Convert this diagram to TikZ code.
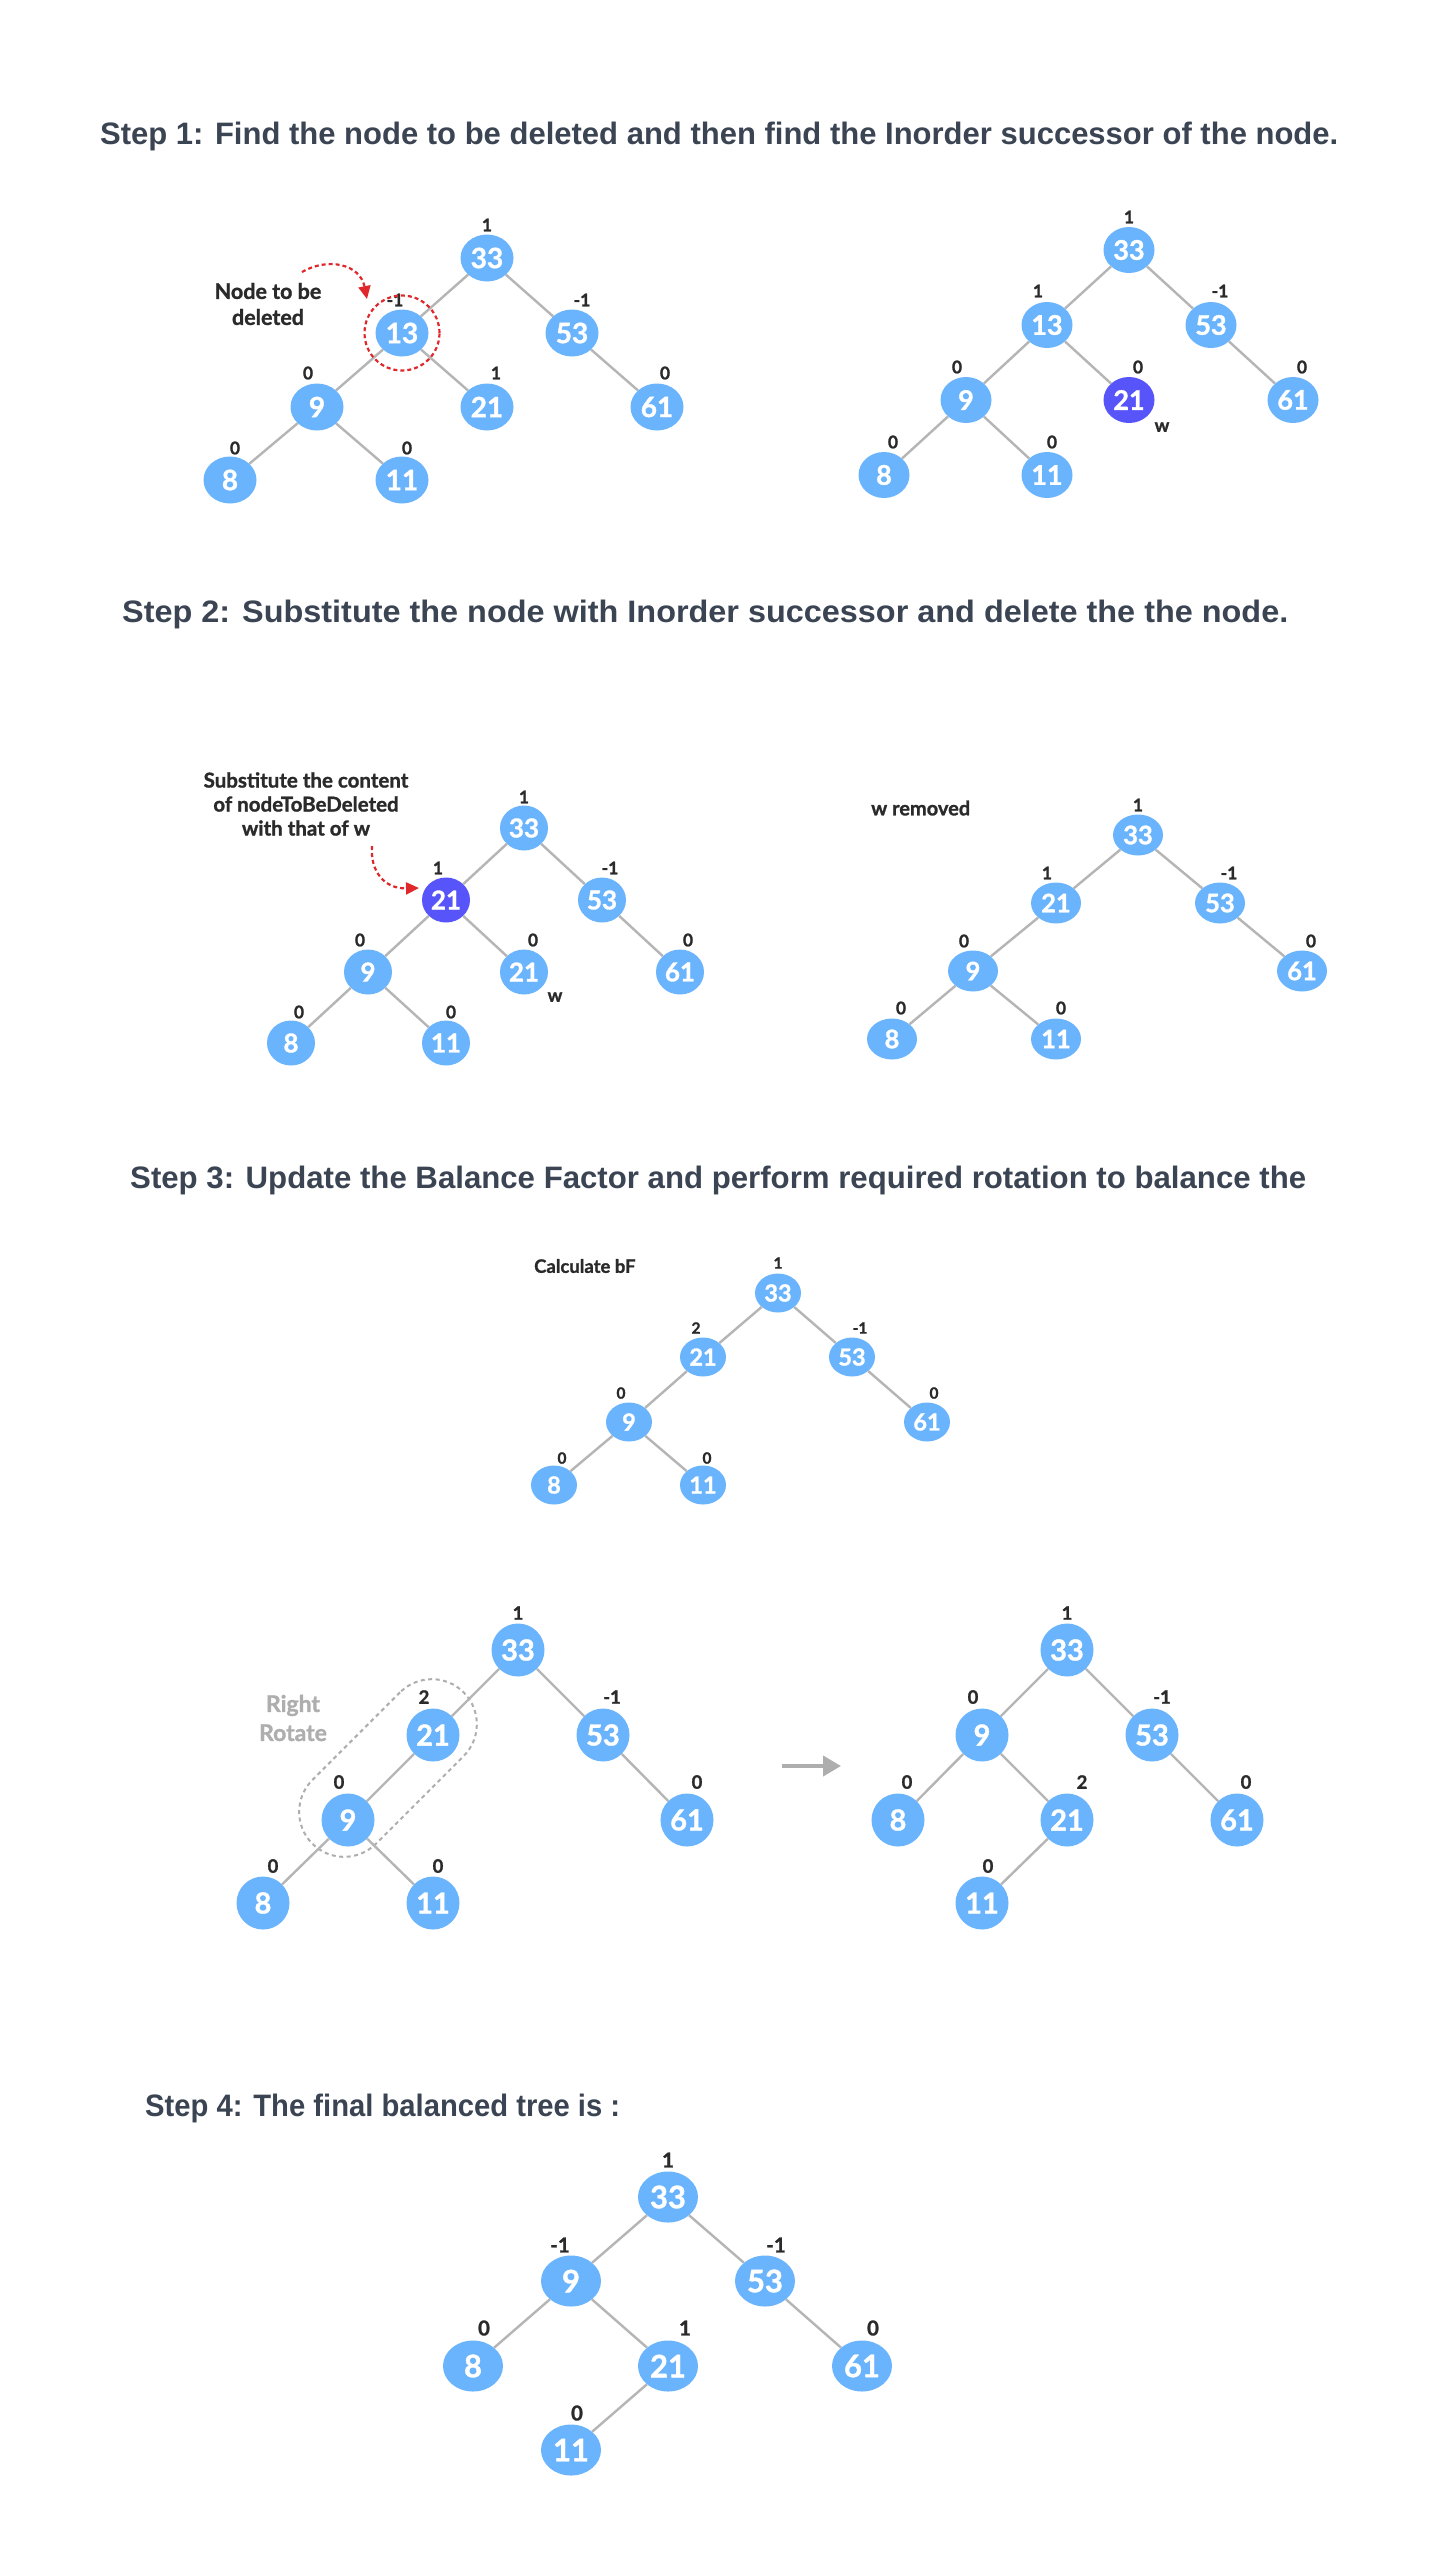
\documentclass[tikz,border=0pt]{standalone}
\usepackage{fontspec}
\usepackage{graphicx}
\usetikzlibrary{shapes.geometric,arrows.meta}
\newfontfamily\lato{Lato}[FakeBold=1.2]
\newfontfamily\headfont{Liberation Sans}
\definecolor{nodeblue}{HTML}{6AB4FD}
\definecolor{nodedark}{HTML}{5755FA}
\definecolor{edgegrey}{HTML}{B5B5B5}
\definecolor{labeldark}{HTML}{2A2A2A}
\definecolor{headcol}{HTML}{3B4453}
\definecolor{delred}{HTML}{E0282C}
\definecolor{rotgrey}{HTML}{AEAEAE}
\tikzset{
 tn/.style={ellipse, fill=nodeblue, text=white, inner sep=0pt},
 tdark/.style={fill=nodedark},
 sa/.style={tn, minimum width=53pt, minimum height=47pt, font=\lato\bfseries\fontsize{28}{28}\selectfont},
 sb/.style={tn, minimum width=51pt, minimum height=46pt, font=\lato\bfseries\fontsize{27}{27}\selectfont},
 sc/.style={tn, minimum width=48pt, minimum height=45pt, font=\lato\bfseries\fontsize{26}{26}\selectfont},
 sd/.style={tn, minimum width=50pt, minimum height=41pt, font=\lato\bfseries\fontsize{25.5}{25.5}\selectfont},
 se/.style={tn, minimum width=46pt, minimum height=39pt, font=\lato\bfseries\fontsize{23.5}{23.5}\selectfont},
 sf/.style={tn, minimum width=53pt, minimum height=53pt, font=\lato\bfseries\fontsize{29}{29}\selectfont},
 sh/.style={tn, minimum width=60pt, minimum height=51pt, font=\lato\bfseries\fontsize{31}{31}\selectfont},
 bf/.style={inner sep=0pt, text=labeldark, font=\lato\bfseries\fontsize{17.5}{17.5}\selectfont},
 bfs/.style={inner sep=0pt, text=labeldark, font=\lato\bfseries\fontsize{15.5}{15.5}\selectfont},
 bfm/.style={inner sep=0pt, text=labeldark, font=\lato\bfseries\fontsize{18.5}{18.5}\selectfont},
 bfl/.style={inner sep=0pt, text=labeldark, font=\lato\bfseries\fontsize{20.5}{20.5}\selectfont},
 conn/.style={draw=edgegrey, line width=2.4pt},
 heading/.style={anchor=base west, inner sep=0pt, text=headcol, font=\headfont\bfseries\fontsize{31}{31}\selectfont},
 note/.style={inner sep=0pt, text=labeldark, font=\lato\bfseries\fontsize{21.5}{26}\selectfont, align=center},
 redarrow/.style={draw=delred, line width=2.2pt, dash pattern=on 4pt off 3pt, -{Triangle[length=13pt,width=12pt,fill=delred]}},
}
\begin{document}
\begin{tikzpicture}[x=1pt,y=-1pt]
\useasboundingbox[fill=white] (0,0) rectangle (1440,2560);

% ---------------- headings
\node[heading] (h1) at (100,144) {\resizebox{1238pt}{\height}{Step 1: Find the node to be deleted and then find the Inorder successor of the node.}};
\node[heading] (h2) at (122,622) {\resizebox{1166pt}{\height}{Step 2: Substitute the node with Inorder successor and delete the the node.}};
\node[heading] (h3) at (130,1188) {\resizebox{1176pt}{\height}{Step 3: Update the Balance Factor and perform required rotation to balance the}};
\node[heading] (h4) at (145,2116) {\resizebox{475pt}{\height}{Step 4: The final balanced tree is :}};

% ---------------- Tree A
\node[sa] (a33) at (487,258) {33};
\node[sa] (a13) at (402,333) {13};
\node[sa] (a53) at (572,333) {53};
\node[sa] (a9) at (317,407) {9};
\node[sa] (a21) at (487,407) {21};
\node[sa] (a61) at (657,407) {61};
\node[sa] (a8) at (230,480) {8};
\node[sa] (a11) at (402,480) {11};
\foreach \p/\c in {a33/a13,a33/a53,a13/a9,a13/a21,a53/a61,a9/a8,a9/a11} \draw[conn] (\p) -- (\c);
\node[bf] (la33) at (487,225) {1};
\node[bf] (la13) at (395,300) {-1};
\node[bf] (la53) at (582,300) {-1};
\node[bf] (la9) at (308,373) {0};
\node[bf] (la21) at (496,373) {1};
\node[bf] (la61) at (665,373) {0};
\node[bf] (la8) at (235,448) {0};
\node[bf] (la11) at (407,448) {0};
\node[circle, draw=delred, line width=2.2pt, dash pattern=on 4pt off 3pt, minimum size=75pt, inner sep=0pt] (del) at (402,333) {};
\node[note] (ntbd) at (268,304) {Node to be\\deleted};
\coordinate (ra1) at (302,272);
\coordinate (ra2) at (367,299);
\draw[redarrow] (ra1) .. controls (328,257) and (360,264) .. (ra2);

% ---------------- Tree B
\node[sb] (b33) at (1129,250) {33};
\node[sb] (b13) at (1047,325) {13};
\node[sb] (b53) at (1211,325) {53};
\node[sb] (b9) at (966,400) {9};
\node[sb,tdark] (b21) at (1129,400) {21};
\node[sb] (b61) at (1293,400) {61};
\node[sb] (b8) at (884,475) {8};
\node[sb] (b11) at (1047,475) {11};
\foreach \p/\c in {b33/b13,b33/b53,b13/b9,b13/b21,b53/b61,b9/b8,b9/b11} \draw[conn] (\p) -- (\c);
\node[bf] (lb33) at (1129,217) {1};
\node[bf] (lb13) at (1038,291) {1};
\node[bf] (lb53) at (1220,291) {-1};
\node[bf] (lb9) at (957,367) {0};
\node[bf] (lb21) at (1138,367) {0};
\node[bf] (lb61) at (1302,367) {0};
\node[bf] (lb8) at (893,442) {0};
\node[bf] (lb11) at (1052,442) {0};
\node[bfm] (bw) at (1162,427) {w};

% ---------------- Tree C
\node[sc] (c33) at (524,828) {33};
\node[sc,tdark] (c21) at (446,900) {21};
\node[sc] (c53) at (602,900) {53};
\node[sc] (c9) at (368,972) {9};
\node[sc] (c21w) at (524,972) {21};
\node[sc] (c61) at (680,972) {61};
\node[sc] (c8) at (291,1043) {8};
\node[sc] (c11) at (446,1043) {11};
\foreach \p/\c in {c33/c21,c33/c53,c21/c9,c21/c21w,c53/c61,c9/c8,c9/c11} \draw[conn] (\p) -- (\c);
\node[bf] (lc33) at (524,797) {1};
\node[bf] (lc21) at (438,868) {1};
\node[bf] (lc53) at (610,868) {-1};
\node[bf] (lc9) at (360,940) {0};
\node[bf] (lc21w) at (533,940) {0};
\node[bf] (lc61) at (688,940) {0};
\node[bf] (lc8) at (299,1012) {0};
\node[bf] (lc11) at (451,1012) {0};
\node[bfm] (cw) at (555,997) {w};
\node[note, font=\lato\bfseries\fontsize{20.5}{24}\selectfont] (subst) at (306,804) {Substitute the content\\of nodeToBeDeleted\\with that of w};
\coordinate (rb1) at (372,846);
\coordinate (rb2) at (419,888);
\draw[redarrow] (rb1) .. controls (370,872) and (385,889) .. (rb2);

% ---------------- Tree D
\node[sd] (d33) at (1138,835) {33};
\node[sd] (d21) at (1056,903) {21};
\node[sd] (d53) at (1220,903) {53};
\node[sd] (d9) at (973,971) {9};
\node[sd] (d61) at (1302,971) {61};
\node[sd] (d8) at (892,1039) {8};
\node[sd] (d11) at (1056,1039) {11};
\foreach \p/\c in {d33/d21,d33/d53,d21/d9,d53/d61,d9/d8,d9/d11} \draw[conn] (\p) -- (\c);
\node[bf] (ld33) at (1138,805) {1};
\node[bf] (ld21) at (1047,873) {1};
\node[bf] (ld53) at (1229,873) {-1};
\node[bf] (ld9) at (964,941) {0};
\node[bf] (ld61) at (1311,941) {0};
\node[bf] (ld8) at (901,1008) {0};
\node[bf] (ld11) at (1061,1008) {0};
\node[bfm, anchor=west, font=\lato\bfseries\fontsize{20}{20}\selectfont] (wrem) at (871,808) {w removed};

% ---------------- Tree E
\node[se] (e33) at (778,1293) {33};
\node[se] (e21) at (703,1357) {21};
\node[se] (e53) at (852,1357) {53};
\node[se] (e9) at (629,1422) {9};
\node[se] (e61) at (927,1422) {61};
\node[se] (e8) at (554,1485) {8};
\node[se] (e11) at (703,1485) {11};
\foreach \p/\c in {e33/e21,e33/e53,e21/e9,e53/e61,e9/e8,e9/e11} \draw[conn] (\p) -- (\c);
\node[bfs] (le33) at (778,1263) {1};
\node[bfs] (le21) at (696,1328) {2};
\node[bfs] (le53) at (860,1328) {-1};
\node[bfs] (le9) at (621,1393) {0};
\node[bfs] (le61) at (934,1393) {0};
\node[bfs] (le8) at (562,1458) {0};
\node[bfs] (le11) at (707,1458) {0};
\node[bfm, anchor=west, font=\lato\bfseries\fontsize{18.5}{18.5}\selectfont] (calc) at (534,1266) {Calculate bF};

% ---------------- Tree F
\node[draw=rotgrey, line width=2pt, dash pattern=on 4pt off 3.5pt, rounded corners=45pt, minimum width=214pt, minimum height=90pt, rotate=45, inner sep=0pt] (caps) at (388,1768) {};
\node[sf] (f33) at (518,1650) {33};
\node[sf] (f21) at (433,1735) {21};
\node[sf] (f53) at (603,1735) {53};
\node[sf] (f9) at (348,1820) {9};
\node[sf] (f61) at (687,1820) {61};
\node[sf] (f8) at (263,1903) {8};
\node[sf] (f11) at (433,1903) {11};
\foreach \p/\c in {f33/f21,f33/f53,f21/f9,f53/f61,f9/f8,f9/f11} \draw[conn] (\p) -- (\c);
\node[bfm] (lf33) at (518,1613) {1};
\node[bfm] (lf21) at (424,1697) {2};
\node[bfm] (lf53) at (612,1697) {-1};
\node[bfm] (lf9) at (339,1782) {0};
\node[bfm] (lf61) at (697,1782) {0};
\node[bfm] (lf8) at (273,1866) {0};
\node[bfm] (lf11) at (438,1866) {0};
\node[note, text=rotgrey, font=\lato\bfseries\fontsize{23}{29}\selectfont] (rrot) at (293,1718) {Right\\Rotate};

% ---------------- arrow
\coordinate (ga1) at (782,1766);
\coordinate (ga2) at (841,1766);
\draw[draw=rotgrey, line width=4pt, -{Triangle[length=18pt,width=20pt,fill=rotgrey]}] (ga1) -- (ga2);

% ---------------- Tree G
\node[sf] (g33) at (1067,1650) {33};
\node[sf] (g9) at (982,1735) {9};
\node[sf] (g53) at (1152,1735) {53};
\node[sf] (g8) at (898,1820) {8};
\node[sf] (g21) at (1067,1820) {21};
\node[sf] (g61) at (1237,1820) {61};
\node[sf] (g11) at (982,1903) {11};
\foreach \p/\c in {g33/g9,g33/g53,g9/g8,g9/g21,g21/g11,g53/g61} \draw[conn] (\p) -- (\c);
\node[bfm] (lg33) at (1067,1613) {1};
\node[bfm] (lg9) at (973,1697) {0};
\node[bfm] (lg53) at (1162,1697) {-1};
\node[bfm] (lg8) at (907,1782) {0};
\node[bfm] (lg21) at (1082,1782) {2};
\node[bfm] (lg61) at (1246,1782) {0};
\node[bfm] (lg11) at (988,1866) {0};

% ---------------- Tree H
\node[sh] (h33) at (668,2197) {33};
\node[sh] (h9) at (571,2281) {9};
\node[sh] (h53) at (765,2281) {53};
\node[sh] (h8) at (473,2366) {8};
\node[sh] (h21) at (668,2366) {21};
\node[sh] (h61) at (862,2366) {61};
\node[sh] (h11) at (571,2450) {11};
\foreach \p/\c in {h33/h9,h33/h53,h9/h8,h9/h21,h21/h11,h53/h61} \draw[conn] (\p) -- (\c);
\node[bfl] (lh33) at (668,2160) {1};
\node[bfl] (lh9) at (560,2245) {-1};
\node[bfl] (lh53) at (776,2245) {-1};
\node[bfl] (lh8) at (484,2328) {0};
\node[bfl] (lh21) at (685,2328) {1};
\node[bfl] (lh61) at (873,2328) {0};
\node[bfl] (lh11) at (577,2413) {0};
\end{tikzpicture}
\end{document}
